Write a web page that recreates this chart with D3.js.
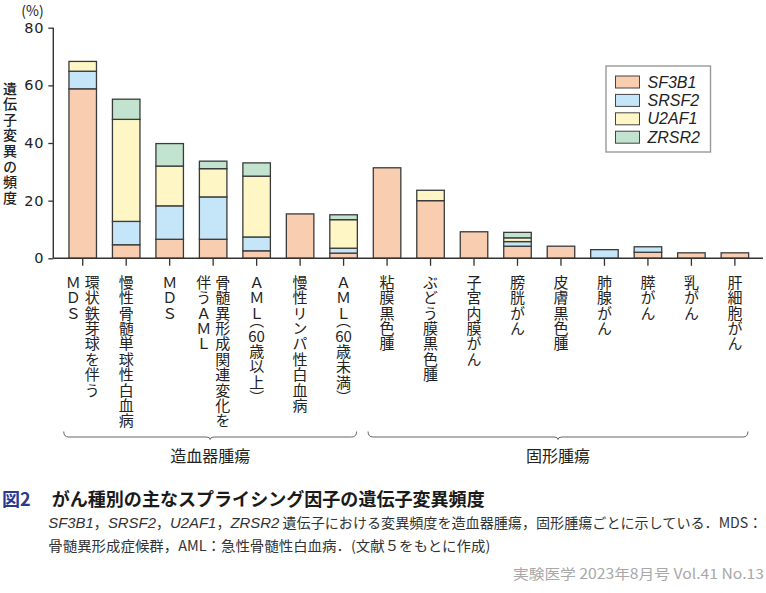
<!DOCTYPE html>
<html><head><meta charset="utf-8">
<script src="https://cdn.jsdelivr.net/npm/d3@7"></script>
<style>body{margin:0;background:#fff}svg{display:block}
.vt{writing-mode:vertical-rl;text-orientation:mixed}
.vh{font-feature-settings:"vhal" 1}
</style>
</head><body>
<svg id="c" width="766" height="593"></svg>
<script>
const categories = [
  "環状鉄芽球を伴う|MDS",
  "慢性骨髄単球性白血病",
  "MDS",
  "骨髄異形成関連変化を|伴うAML",
  "AML(60歳以上)",
  "慢性リンパ性白血病",
  "AML(60歳未満)",
  "粘膜黒色腫",
  "ぶどう膜黒色腫",
  "子宮内膜がん",
  "膀胱がん",
  "皮膚黒色腫",
  "肺腺がん",
  "膵がん",
  "乳がん",
  "肝細胞がん"
];
const seriesNames = ["SF3B1", "SRSF2", "U2AF1", "ZRSR2"];
const sf3b1 = [58.8, 4.7, 6.6, 6.6, 2.6, 15.4, 1.8, 31.4, 20.0, 9.2, 4.2, 4.2, 0, 2.1, 1.9, 1.9];
const srsf2 = [6.1, 8.1, 11.6, 14.7, 4.8, 0, 1.7, 0, 0, 0, 1.6, 0, 3.0, 1.9, 0, 0];
const u2af1 = [3.4, 35.4, 13.8, 9.8, 21.1, 0, 9.9, 0, 3.6, 0, 1.3, 0, 0, 0, 0, 0];
const zrsr2 = [0, 7.0, 7.8, 2.6, 4.6, 0, 1.7, 0, 0, 0, 1.9, 0, 0, 0, 0, 0];
const yTicks = [0, 20, 40, 60, 80];
const groups = [
  {name: "造血器腫瘍", from: 0, to: 6},
  {name: "固形腫瘍", from: 7, to: 15}
];
const yTitle = "遺伝子変異の頻度";
const yUnit = "(%)";

const colors = {SF3B1: "#f9cdb0", SRSF2: "#c4e6f8", U2AF1: "#fff6c6", ZRSR2: "#c1e3cf"};
const JP = "'Noto Sans CJK JP','Noto Sans',sans-serif";

const svg = d3.select("#c");
svg.append("rect").attr("width", 766).attr("height", 593).attr("fill", "#fff");

const x = d3.scaleBand().domain(d3.range(categories.length)).range([55.2, 762.4]).paddingInner(0.367).paddingOuter(0.3165);
const y = d3.scaleLinear().domain([0, 80]).range([258.3, 27.7]);

const table = categories.map((c, i) => ({i, SF3B1: sf3b1[i], SRSF2: srsf2[i], U2AF1: u2af1[i], ZRSR2: zrsr2[i]}));
const stacked = d3.stack().keys(seriesNames)(table);

// bars
const g = svg.append("g");
stacked.forEach(layer => {
  g.selectAll(null).data(layer.filter(d => d[1] - d[0] > 0)).enter().append("rect")
    .attr("x", d => x(d.data.i))
    .attr("width", x.bandwidth())
    .attr("y", d => y(d[1]))
    .attr("height", d => y(d[0]) - y(d[1]))
    .attr("fill", colors[layer.key])
    .attr("stroke", "#3a3a3a")
    .attr("stroke-width", 1.3);
});

// y axis
const yAxis = d3.axisLeft(y).tickValues(yTicks).tickSize(5).tickPadding(4);
const ya = svg.append("g").attr("transform", "translate(53.3,0)").call(yAxis);
ya.select(".domain").attr("stroke", "#333").attr("stroke-width", 1.4).attr("d", `M0,${y(80)}V${y(0)}`);
ya.selectAll(".tick line").attr("stroke", "#333").attr("stroke-width", 1.3);
ya.selectAll(".tick text").attr("font-family", "'DejaVu Sans',sans-serif").attr("font-size", 14.5)
  .attr("letter-spacing", 0.8).attr("fill", "#222");

// x axis
const xAxis = d3.axisBottom(x).tickSize(7.5).tickFormat("");
const xa = svg.append("g").attr("transform", `translate(0,${y(0)})`).call(xAxis);
xa.select(".domain").attr("stroke", "#333").attr("stroke-width", 1.4).attr("d", `M53.3,0H763`);
xa.selectAll(".tick line").attr("stroke", "#333").attr("stroke-width", 1.3);

// y title (vertical writing)
svg.append("text").attr("class", "vt").attr("x", 10).attr("y", 81.5)
  .attr("font-family", JP).attr("font-size", 14).attr("font-weight", 500).attr("fill", "#222")
  .attr("letter-spacing", 1.55).text(yTitle);
svg.append("text").attr("x", 32.5).attr("y", 9.5).attr("text-anchor", "middle")
  .attr("dominant-baseline", "central").attr("font-family", JP).attr("font-size", 14)
  .attr("fill", "#222").text(yUnit);

// vertical category labels: split into vertical runs and horizontal digit runs (tate-chu-yoko)
function toFull(c) {
  if (/[A-Za-z]/.test(c)) return String.fromCharCode(c.charCodeAt(0) + 0xFEE0);
  if (c === "(") return "（";
  if (c === ")") return "）";
  return c;
}
function segments(s) {
  const out = [];
  let cur = null;
  Array.from(s).forEach(c => {
    const type = /[0-9]/.test(c) ? "h" : "v";
    if (!cur || cur.type !== type) { cur = {type, chars: []}; out.push(cur); }
    cur.chars.push(type === "v" ? toFull(c) : c);
  });
  return out;
}
const lab = svg.append("g").attr("font-family", JP).attr("font-size", 15).attr("fill", "#222");
categories.forEach((c, i) => {
  const cols = c.split("|");
  const cx = x(i) + x.bandwidth() / 2;
  cols.forEach((col, j) => {
    const off = cols.length === 1 ? 0 : (j === 0 ? 9.5 : -9.5);
    const xx = cx + off;
    let yy = 274.5;
    segments(col).forEach(seg => {
      if (seg.type === "h") {
        lab.append("text").attr("x", xx).attr("y", yy + 7.5).attr("text-anchor", "middle")
          .attr("dominant-baseline", "central").text(seg.chars.join(""));
        yy += 15;
      } else {
        const t = lab.append("text").attr("class", "vt").attr("x", xx).attr("y", yy)
          .attr("letter-spacing", 0.35);
        seg.chars.forEach(ch => {
          const ts = t.append("tspan").text(ch);
          if (ch === "（" || ch === "）") ts.attr("class", "vh");
        });
        yy += t.node().getComputedTextLength();
      }
    });
  });
});

// group braces
groups.forEach(gr => {
  const x0 = x(gr.from) + x.bandwidth() / 2 - 19;
  const x1 = x(gr.to) + x.bandwidth() / 2 + 13;
  const xm = (x0 + x1) / 2;
  const yb = 437;
  const path = `M${x0},${yb - 5.5} Q${x0},${yb} ${x0 + 5},${yb} H${xm - 4} Q${xm},${yb} ${xm},${yb + 2.5} Q${xm},${yb} ${xm + 4},${yb} H${x1 - 5} Q${x1},${yb} ${x1},${yb - 5.5}`;
  svg.append("path").attr("d", path).attr("fill", "none").attr("stroke", "#666").attr("stroke-width", 1);
  svg.append("text").attr("x", xm).attr("y", 455).attr("text-anchor", "middle")
    .attr("dominant-baseline", "central").attr("font-family", JP).attr("font-size", 16)
    .attr("fill", "#222").text(gr.name);
});

// legend
const lg = svg.append("g");
lg.append("rect").attr("x", 606).attr("y", 66).attr("width", 104.5).attr("height", 86)
  .attr("fill", "#fff").attr("stroke", "#999").attr("stroke-width", 1.4);
seriesNames.forEach((s, k) => {
  const ry = 76 + k * 18.4;
  lg.append("rect").attr("x", 615.5).attr("y", ry).attr("width", 24).attr("height", 12)
    .attr("fill", colors[s]).attr("stroke", "#444").attr("stroke-width", 1);
  lg.append("text").attr("x", 647.5).attr("y", ry + 11.6).attr("font-family", "'Liberation Sans',Arial,sans-serif")
    .attr("font-style", "italic").attr("font-size", 16).attr("fill", "#222").text(s);
});

// caption
svg.append("text").attr("x", 2).attr("y", 498).attr("dominant-baseline", "central")
  .attr("font-family", JP).attr("font-weight", "bold").attr("font-size", 18).attr("fill", "#2b3990").text("図2");
svg.append("text").attr("x", 51.7).attr("y", 498).attr("dominant-baseline", "central")
  .attr("font-family", JP).attr("font-weight", "bold").attr("font-size", 18).attr("fill", "#1a1a1a")
  .attr("textLength", 433).attr("lengthAdjust", "spacingAndGlyphs")
  .text("がん種別の主なスプライシング因子の遺伝子変異頻度");

const l1 = svg.append("text").attr("x", 48.3).attr("y", 522).attr("dominant-baseline", "central")
  .attr("font-family", JP).attr("font-size", 14.2).attr("fill", "#333")
  .attr("textLength", 714).attr("lengthAdjust", "spacingAndGlyphs");
[["SF3B1", true], ["，", false], ["SRSF2", true], ["，", false], ["U2AF1", true], ["，", false], ["ZRSR2", true],
 [" 遺伝子における変異頻度を造血器腫瘍，固形腫瘍ごとに示している．MDS：", false]].forEach(([t, isIt]) => {
  const ts = l1.append("tspan").text(t);
  if (isIt) { ts.attr("font-family", "'Liberation Sans',Arial,sans-serif").attr("font-style", "italic").attr("font-size", 15); }
});
svg.append("text").attr("x", 48.3).attr("y", 545).attr("dominant-baseline", "central")
  .attr("font-family", JP).attr("font-size", 14.2).attr("fill", "#333")
  .attr("textLength", 442).attr("lengthAdjust", "spacingAndGlyphs")
  .text("骨髄異形成症候群，AML：急性骨髄性白血病．(文献５をもとに作成)");

svg.append("text").attr("x", 764).attr("y", 573).attr("dominant-baseline", "central").attr("text-anchor", "end")
  .attr("font-family", JP).attr("font-size", 14).attr("fill", "#a8a8a8")
  .attr("textLength", 251).attr("lengthAdjust", "spacingAndGlyphs")
  .text("実験医学 2023年8月号 Vol.41 No.13");
</script>
</body></html>
